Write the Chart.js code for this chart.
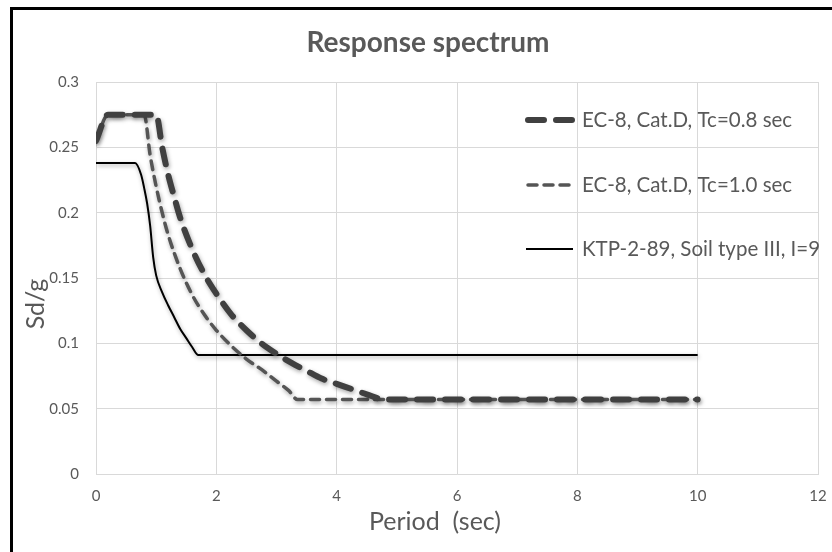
<!DOCTYPE html>
<html>
<head>
<meta charset="utf-8">
<script src="https://cdn.jsdelivr.net/npm/chart.js@4"></script>
<style>
  body { margin: 0; background: #fff; }
  #wrap { position: relative; width: 832px; height: 552px; }
  #frame {
    position: absolute; left: 10px; top: 7px; width: 830px; height: 542px;
    border-top: 3px solid #000; border-left: 3px solid #000; border-bottom: 1px solid #d9d9d9;
  }
  #spectrum { position: absolute; left: 0; top: 0; }
</style>
</head>
<body>
<div id="wrap">
  <div id="frame"></div>
  <canvas id="spectrum" width="832" height="552"></canvas>
</div>
<script>
// EC-8, Cat.D, Tc=0.8 sec (thick dashes)
const ec8Tc08Period = [0, 0.2, 0.4, 0.6, 0.8, 1.0, 1.1, 1.2, 1.3, 1.4, 1.6, 1.8, 2.0, 2.25, 2.5, 2.75, 3.0, 3.25, 3.5, 3.75, 4.0, 4.25, 4.5, 4.8, 5, 6, 7, 8, 9, 10];
const ec8Tc08Sd = [0.255, 0.275, 0.275, 0.275, 0.275, 0.275, 0.25, 0.229, 0.212, 0.196, 0.172, 0.153, 0.138, 0.122, 0.11, 0.1, 0.092, 0.085, 0.079, 0.073, 0.069, 0.065, 0.061, 0.057, 0.057, 0.057, 0.057, 0.057, 0.057, 0.057];

// EC-8, Cat.D, Tc=1.0 sec (medium dashes)
const ec8Tc10Period = [0, 0.2, 0.4, 0.6, 0.8, 0.9, 1.0, 1.1, 1.2, 1.4, 1.6, 1.8, 2.0, 2.25, 2.5, 2.75, 3.0, 3.2, 3.35, 4, 5, 6, 7, 8, 9, 10];
const ec8Tc10Sd = [0.255, 0.275, 0.275, 0.275, 0.275, 0.244, 0.22, 0.2, 0.183, 0.157, 0.137, 0.122, 0.11, 0.098, 0.088, 0.08, 0.071, 0.064, 0.057, 0.057, 0.057, 0.057, 0.057, 0.057, 0.057, 0.057];

// KTP-2-89, Soil type III, I=9 (solid)
const ktpPeriod = [0, 0.65, 0.75, 0.8, 0.85, 0.9, 0.95, 1.0, 1.1, 1.2, 1.3, 1.4, 1.5, 1.6, 1.7, 2, 4, 6, 8, 10];
const ktpSd = [0.238, 0.238, 0.229, 0.219, 0.207, 0.19, 0.166, 0.152, 0.139, 0.129, 0.12, 0.111, 0.104, 0.097, 0.091, 0.091, 0.091, 0.091, 0.091, 0.091];

const seriesLabels = ['EC-8, Cat.D, Tc=0.8 sec', 'EC-8, Cat.D, Tc=1.0 sec', 'KTP-2-89, Soil type III, I=9'];
const xTicks = [0, 2, 4, 6, 8, 10, 12];
const yTicks = [0, 0.05, 0.1, 0.15, 0.2, 0.25, 0.3];
const yTickLabels = ['0', '0.05', '0.1', '0.15', '0.2', '0.25', '0.3'];

const textColor = '#595959';
const fontFamily = 'Lato, "Liberation Sans", sans-serif';

function toPoints(xs, ys) {
  return xs.map((x, i) => ({ x: x, y: ys[i] }));
}

// soft shadow under the lines, like the Excel original
const lineShadow = {
  id: 'lineShadow',
  beforeDatasetsDraw(chart) {
    const ctx = chart.ctx;
    ctx.save();
    ctx.shadowColor = 'rgba(0,0,0,0.35)';
    ctx.shadowBlur = 4;
    ctx.shadowOffsetX = 1;
    ctx.shadowOffsetY = 2;
  },
  afterDatasetsDraw(chart) {
    chart.ctx.restore();
  }
};

// title, axis titles and the legend sit where Excel put them
const excelText = {
  id: 'excelText',
  afterDraw(chart) {
    const ctx = chart.ctx;
    ctx.save();
    ctx.fillStyle = textColor;
    ctx.textAlign = 'center';
    ctx.textBaseline = 'middle';

    ctx.font = 'bold 28px ' + fontFamily;
    ctx.fillText('Response spectrum', 428, 43);

    ctx.font = '25px ' + fontFamily;
    ctx.fillText('Period  (sec)', 435, 522);

    ctx.save();
    ctx.translate(36, 304);
    ctx.rotate(-Math.PI / 2);
    ctx.fillText('Sd/g', 0, 0);
    ctx.restore();

    const rows = [120, 185, 249];
    chart.data.datasets.forEach((ds, i) => {
      const y = rows[i];
      ctx.save();
      ctx.strokeStyle = ds.borderColor;
      ctx.lineWidth = ds.borderWidth;
      ctx.lineCap = ds.borderCapStyle || 'butt';
      ctx.setLineDash(ds.borderDash || []);
      ctx.beginPath();
      ctx.moveTo(ds.borderDash && ds.borderDash.length ? 528 : 526, y);
      ctx.lineTo(573, y);
      ctx.stroke();
      ctx.restore();
      ctx.textAlign = 'left';
      ctx.font = '20.5px ' + fontFamily;
      ctx.fillText(ds.label, 582, y);
    });
    ctx.restore();
  }
};

const spectrumData = {
  datasets: [
    {
      label: seriesLabels[0],
      data: toPoints(ec8Tc08Period, ec8Tc08Sd),
      borderColor: '#404040',
      borderWidth: 6,
      borderDash: [16, 12],
      borderCapStyle: 'round'
    },
    {
      label: seriesLabels[1],
      data: toPoints(ec8Tc10Period, ec8Tc10Sd),
      borderColor: '#555555',
      borderWidth: 3.5,
      borderDash: [9, 7],
      borderCapStyle: 'round'
    },
    {
      label: seriesLabels[2],
      data: toPoints(ktpPeriod, ktpSd),
      borderColor: '#000000',
      borderWidth: 2,
      borderCapStyle: 'butt'
    }
  ]
};

const spectrumConfig = {
  type: 'line',
  data: spectrumData,
  options: {
    responsive: false,
    animation: false,
    cubicInterpolationMode: 'monotone',
    pointRadius: 0,
    layout: { padding: { left: 0, top: 82, right: 14, bottom: 0 } },
    plugins: {
      legend: { display: false },
      title: { display: false },
      tooltip: { enabled: false }
    },
    scales: {
      x: {
        type: 'linear',
        min: 0,
        max: 12,
        afterBuildTicks: (scale) => { scale.ticks = xTicks.map(v => ({ value: v })); },
        afterFit: (scale) => {
          scale.height = 78;
          scale.paddingLeft = 0;
          scale.paddingRight = 0;
        },
        grid: { color: '#d9d9d9', drawTicks: false },
        border: { color: '#d9d9d9' },
        ticks: { color: textColor, padding: 13, font: { family: fontFamily, size: 15 } }
      },
      y: {
        min: 0,
        max: 0.3,
        afterBuildTicks: (scale) => { scale.ticks = yTicks.map(v => ({ value: v })); },
        afterFit: (scale) => {
          scale.width = 96;
          scale.paddingTop = 0;
          scale.paddingBottom = 0;
        },
        grid: { color: '#d9d9d9', drawTicks: false },
        border: { color: '#d9d9d9' },
        ticks: {
          color: textColor,
          padding: 17,
          font: { family: fontFamily, size: 15 },
          callback: (value, index) => yTickLabels[index]
        }
      }
    }
  },
  plugins: [lineShadow, excelText]
};

var spectrumChart = new Chart(
  document.getElementById('spectrum'),
  spectrumConfig
);
</script>
</body>
</html>
